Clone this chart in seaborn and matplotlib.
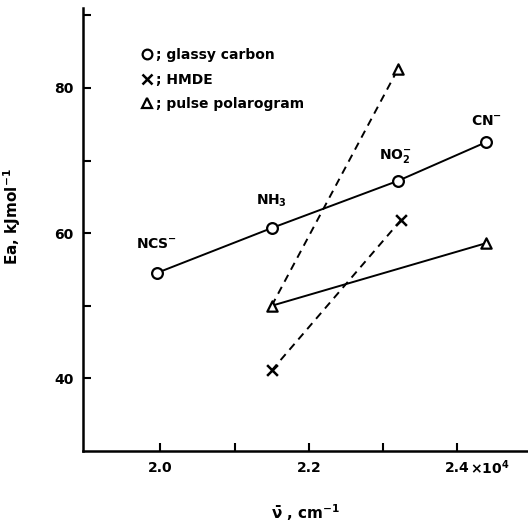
import matplotlib
matplotlib.use("Agg")
import matplotlib.pyplot as plt
import seaborn as sns
import pandas as pd
from matplotlib.lines import Line2D

# ---- data ----
gc_x = [1.995, 2.15, 2.32, 2.438]          # glassy carbon
gc_y = [54.5, 60.7, 67.2, 72.5]
gc_labels = ["NCS$^{\\mathbf{-}}$", "NH$_\\mathbf{3}$", "NO$_\\mathbf{2}^\\mathbf{-}$", "CN$^\\mathbf{-}$"]

hmde_x = [2.15, 2.324]                      # HMDE
hmde_y = [41.1, 61.8]

pp_dash_x = [2.15, 2.32]                    # pulse polarogram (dashed branch)
pp_dash_y = [50.0, 82.6]
pp_solid_x = [2.15, 2.438]                  # pulse polarogram (solid branch)
pp_solid_y = [50.0, 58.6]

legend_labels = ["; glassy carbon", "; HMDE", "; pulse polarogram"]

x_ticks = [2.0, 2.1, 2.2, 2.3, 2.4]
x_ticklabels = ["2.0", "", "2.2", "", "2.4"]
y_ticks = [40, 50, 60, 70, 80, 90]
y_ticklabels = ["40", "", "60", "", "80", ""]

sns.set_style("ticks")
plt.rcParams["font.family"] = ["DejaVu Sans"]
plt.rcParams["font.weight"] = "bold"
plt.rcParams["mathtext.default"] = "bf"
for k in ["text.color", "axes.labelcolor", "xtick.color", "ytick.color", "axes.edgecolor"]:
    plt.rcParams[k] = "black"

fig = plt.figure(figsize=(5.28, 5.25), dpi=100)
ax = fig.add_axes([83 / 528, 1 - 451 / 525, 445 / 528, 443 / 525])

gc = pd.DataFrame({"x": gc_x, "y": gc_y})
hm = pd.DataFrame({"x": hmde_x, "y": hmde_y})
ppd = pd.DataFrame({"x": pp_dash_x, "y": pp_dash_y})
pps = pd.DataFrame({"x": pp_solid_x, "y": pp_solid_y})

lw = 1.4
sns.lineplot(data=gc, x="x", y="y", ax=ax, color="black", lw=lw, sort=False)
sns.lineplot(data=hm, x="x", y="y", ax=ax, color="black", lw=lw, sort=False,
             linestyle=(0, (4, 3)))
sns.lineplot(data=ppd, x="x", y="y", ax=ax, color="black", lw=lw, sort=False,
             linestyle=(0, (4, 3)))
sns.lineplot(data=pps, x="x", y="y", ax=ax, color="black", lw=lw, sort=False)

sns.scatterplot(data=gc, x="x", y="y", ax=ax, marker="o", s=60,
                facecolor="white", edgecolor="black", linewidth=1.6, zorder=5)
sns.scatterplot(data=hm, x="x", y="y", ax=ax, marker="x", s=60,
                color="black", linewidth=1.8, zorder=5)
pp_pts = pd.DataFrame({"x": pp_dash_x + pp_solid_x[1:], "y": pp_dash_y + pp_solid_y[1:]})
sns.scatterplot(data=pp_pts, x="x", y="y", ax=ax, marker="^", s=55,
                facecolor="white", edgecolor="black", linewidth=1.6, zorder=5)

offsets = [(0, 29), (0, 27), (-3, 25), (1, 21)]
for xv, yv, lab, off in zip(gc_x, gc_y, gc_labels, offsets):
    ax.annotate(lab, (xv, yv), xytext=off, textcoords="offset pixels",
                ha="center", va="center", fontsize=10, fontweight="bold")

handles = [
    Line2D([], [], marker="o", ls="", mfc="white", mec="black", mew=1.6, ms=7),
    Line2D([], [], marker="x", ls="", color="black", mew=1.8, ms=7),
    Line2D([], [], marker="^", ls="", mfc="white", mec="black", mew=1.6, ms=7),
]
ax.legend(handles, legend_labels, loc="upper left", bbox_to_anchor=(0.115, 0.925),
          frameon=False, handlelength=0.8, handletextpad=0.3, labelspacing=0.75,
          borderpad=0, prop={"size": 10, "weight": "bold"})

ax.set_xlim(1.896, 2.495)
ax.set_ylim(30, 91)
ax.set_xticks(x_ticks)
ax.set_xticklabels(x_ticklabels)
ax.set_yticks(y_ticks)
ax.set_yticklabels(y_ticklabels)
ax.tick_params(direction="in", length=6, width=1.5, labelsize=10, pad=7)
for lab in ax.get_xticklabels() + ax.get_yticklabels():
    lab.set_fontweight("bold")
ax.annotate("\u00d710$^4$", (2.4, 0), xycoords=("data", "axes fraction"),
            xytext=(13, -17), textcoords="offset pixels", ha="left", va="center",
            fontsize=10, fontweight="bold")

sns.despine(ax=ax)
for s in ["left", "bottom"]:
    ax.spines[s].set_linewidth(1.8)

ax.set_xlabel("$\\bar{\\nu}$ , cm$^{-1}$", fontsize=11, fontweight="bold", labelpad=20)
ax.set_ylabel("Ea, kJmol$^{-1}$", fontsize=11, fontweight="bold")
ax.yaxis.set_label_coords(-0.135, 0.53)

fig.savefig("out.png", dpi=100)
